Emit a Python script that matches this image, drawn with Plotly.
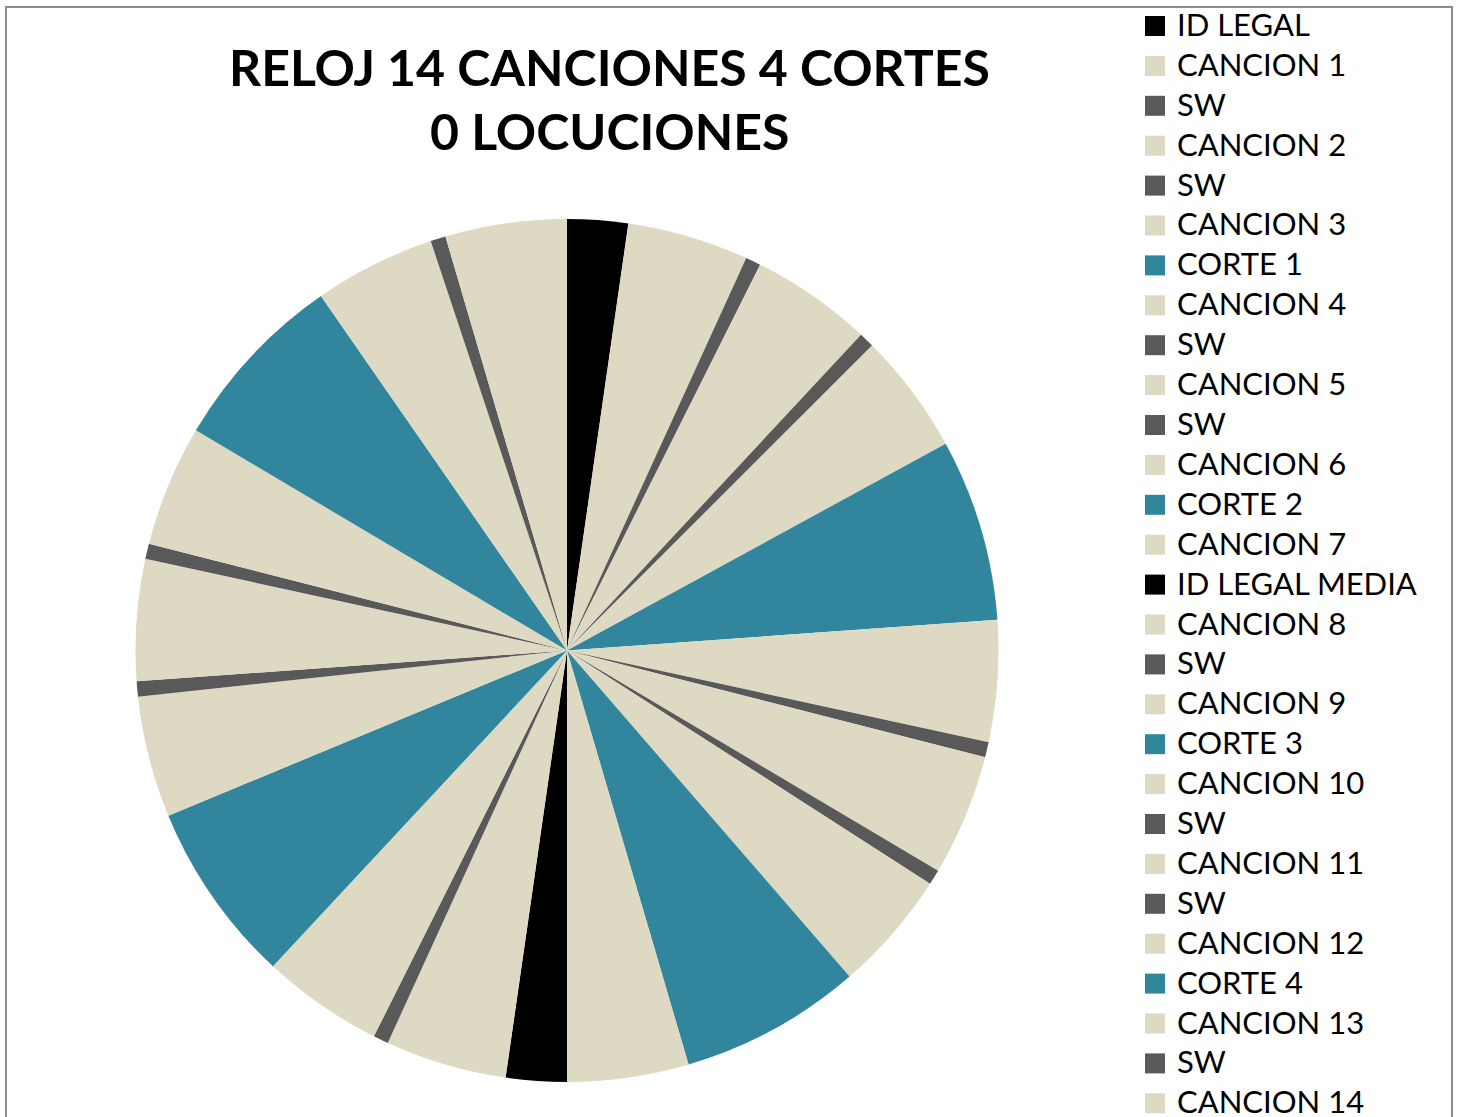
import plotly.graph_objects as go

# Hour clock: blocks in broadcast order, durations in minutes
items = [
    "ID LEGAL", "CANCION 1", "SW", "CANCION 2", "SW", "CANCION 3", "CORTE 1",
    "CANCION 4", "SW", "CANCION 5", "SW", "CANCION 6", "CORTE 2", "CANCION 7",
    "ID LEGAL MEDIA", "CANCION 8", "SW", "CANCION 9", "CORTE 3", "CANCION 10",
    "SW", "CANCION 11", "SW", "CANCION 12", "CORTE 4", "CANCION 13", "SW",
    "CANCION 14",
]
kinds = [
    "id", "song", "sw", "song", "sw", "song", "corte",
    "song", "sw", "song", "sw", "song", "corte", "song",
    "id", "song", "sw", "song", "corte", "song",
    "sw", "song", "sw", "song", "corte", "song", "sw",
    "song",
]
kind_minutes = {"id": 2.0, "song": 4.0, "sw": 0.5, "corte": 6.0}
kind_colors = {"id": "#000000", "song": "#DDD9C3", "sw": "#595959", "corte": "#31859C"}

minutes = [kind_minutes[k] for k in kinds]
colors = [kind_colors[k] for k in kinds]

W, H = 1462, 1117

# repeated names (SW) must stay separate slices, so make each label unique
labels = [name + "\u200b" * i for i, name in enumerate(items)]

cx, cy, r = 567.0, 650.5, 431.5
fig = go.Figure(go.Pie(
    labels=labels,
    values=minutes,
    marker=dict(colors=colors, line=dict(width=0)),
    sort=False,
    direction="clockwise",
    rotation=0,
    textinfo="none",
    hoverinfo="label+value",
    showlegend=False,
    domain=dict(x=[(cx - r) / W, (cx + r) / W],
                y=[(H - cy - r) / H, (H - cy + r) / H]),
))

shapes = []
annotations = []

# chart frame
shapes.append(dict(type="rect", xref="paper", yref="paper",
                   x0=6 / W, x1=1452 / W, y0=-0.05, y1=1 - 7 / H,
                   line=dict(color="#8C8C8C", width=2), fillcolor="rgba(0,0,0,0)"))

# title
title_font = dict(family="Lato", size=50, color="#000000")
for text, ty in [("RELOJ 14 CANCIONES 4 CORTES", 67.0), ("0 LOCUCIONES", 131.0)]:
    annotations.append(dict(text="<b>" + text + "</b>", xref="paper", yref="paper",
                            x=609 / W, y=1 - ty / H, xanchor="center", yanchor="middle",
                            showarrow=False, font=title_font))

# legend
row0, pitch, sq = 26.0, 39.9, 20.0
for i, (name, col) in enumerate(zip(items, colors)):
    yc = row0 + pitch * i
    shapes.append(dict(type="rect", xref="paper", yref="paper",
                       x0=1145 / W, x1=(1145 + sq) / W,
                       y0=1 - (yc + sq / 2) / H, y1=1 - (yc - sq / 2) / H,
                       line=dict(width=0), fillcolor=col))
    annotations.append(dict(text=name, xref="paper", yref="paper",
                            x=1175 / W, y=1 - (yc - 2) / H, xanchor="left", yanchor="middle",
                            showarrow=False,
                            font=dict(family="Lato", size=31, color="#000000")))

fig.update_layout(
    width=W, height=H,
    margin=dict(l=0, r=0, t=0, b=0),
    paper_bgcolor="#FFFFFF",
    plot_bgcolor="#FFFFFF",
    shapes=shapes,
    annotations=annotations,
)

fig.write_html("out.html")
